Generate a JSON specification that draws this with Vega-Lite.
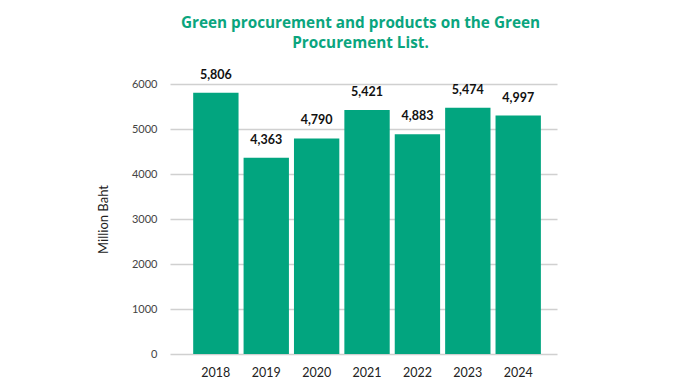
{
  "$schema": "https://vega.github.io/schema/vega-lite/v6.json",
  "width": 387,
  "height": 270,
  "autosize": "none",
  "padding": {"left": 170, "top": 84, "right": 141, "bottom": 36},
  "background": "white",
  "view": {"stroke": null},
  "title": {
    "text": ["Green procurement and products on the Green", "Procurement List."],
    "color": "#0AA57E",
    "font": "Open Sans",
    "fontWeight": "bold",
    "fontSize": 15.3,
    "lineHeight": 20,
    "anchor": "middle",
    "dx": -3,
    "offset": 17
  },
  "data": {
    "values": [
      {"year": "2018", "value": 5806, "label": "5,806"},
      {"year": "2019", "value": 4363, "label": "4,363"},
      {"year": "2020", "value": 4790, "label": "4,790"},
      {"year": "2021", "value": 5421, "label": "5,421"},
      {"year": "2022", "value": 4883, "label": "4,883"},
      {"year": "2023", "value": 5474, "label": "5,474"},
      {"year": "2024", "value": 5300, "label": "4,997"}
    ]
  },
  "encoding": {
    "x": {
      "field": "year",
      "type": "nominal",
      "scale": {"paddingInner": 0.1, "paddingOuter": 0.39, "align": 0.59},
      "axis": {
        "title": null,
        "labelAngle": 0,
        "domain": false,
        "ticks": false,
        "labelFont": "Lato",
        "labelFontSize": 12.5,
        "labelColor": "#222222",
        "labelPadding": 12
      }
    },
    "y": {
      "field": "value",
      "type": "quantitative",
      "scale": {"domain": [0, 6000]},
      "axis": {
        "title": "Million Baht",
        "titleFont": "Lato",
        "titleFontSize": 13,
        "titleFontWeight": "normal",
        "titleColor": "#222222",
        "titlePadding": 21,
        "values": [0, 1000, 2000, 3000, 4000, 5000, 6000],
        "format": "d",
        "domain": false,
        "ticks": false,
        "grid": true,
        "gridColor": "#D0D0D0",
        "gridWidth": 1.5,
        "labelFont": "Lato",
        "labelFontSize": 11,
        "labelColor": "#444444",
        "labelPadding": 13
      }
    }
  },
  "layer": [
    {"mark": {"type": "bar", "color": "#02A57F"}},
    {
      "mark": {"type": "text", "dy": -18, "font": "Lato", "fontWeight": "bold", "fontSize": 12.5, "color": "#111111"},
      "encoding": {"text": {"field": "label"}}
    }
  ]
}
